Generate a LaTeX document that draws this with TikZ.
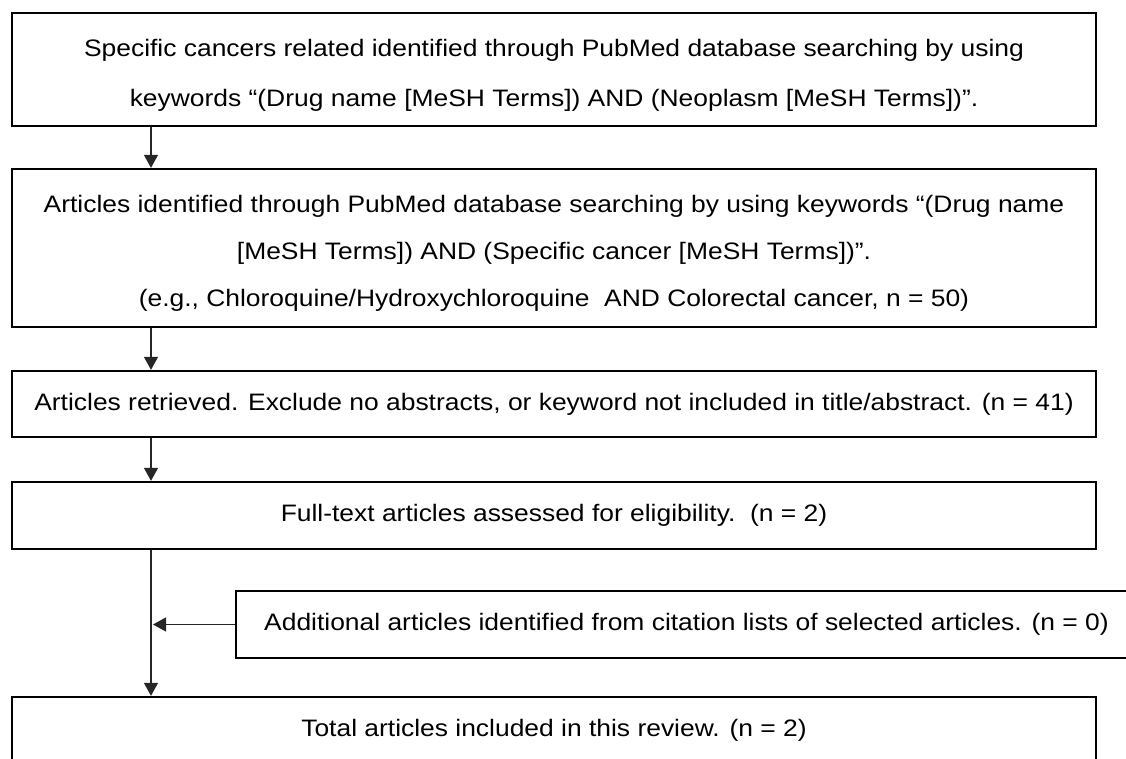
\documentclass[tikz,border=0pt]{standalone}
\usepackage{fontspec}
\setmainfont{Liberation Sans}[FakeStretch=1.11]
\usetikzlibrary{arrows.meta,positioning,calc}

\tikzset{
  box/.style={draw,line width=1.15pt,minimum width=542pt,align=center,inner sep=0pt,
    font=\fontsize{11.9}{23.5}\selectfont},
  flow/.style={-{Triangle[length=6.5pt,width=7pt]},line width=0.6pt,black!85}
}

\begin{document}
\begin{tikzpicture}[x=0.5pt,y=-0.5pt]
\useasboundingbox (0,0) rectangle (1126,759);
\clip (0,0) rectangle (1126,759);

\node[box,minimum height=56.5pt,font=\fontsize{11.9}{25}\selectfont] (search) at (554,69.5)
  {\rule{0pt}{14pt}Specific cancers related identified through PubMed database searching by using\\
   keywords ``(Drug name [MeSH Terms]) AND (Neoplasm [MeSH Terms])''.};
\node[box,minimum height=79pt] (ident) at (554,248)
  {\rule{0pt}{14pt}Articles identified through PubMed database searching by using keywords ``(Drug name\\
   {[}MeSH Terms]) AND (Specific cancer [MeSH Terms])''.\\
   (e.g., Chloroquine/Hydroxychloroquine\ \ AND Colorectal cancer, n = 50)};
\node[box,minimum height=33pt] (retr) at (554,404)
  {Articles retrieved. Exclude no abstracts, or keyword not included in title/abstract. (n = 41)};
\node[box,minimum height=33.5pt] (full) at (554,515.5)
  {Full-text articles assessed for eligibility.\ \ (n = 2)};
\node[box,minimum width=450.5pt,minimum height=33.5pt] (extra) at (686.5,624.5)
  {Additional articles identified from citation lists of selected articles. (n = 0)};
\node[box,minimum height=33.5pt] (total) at (554,730.5)
  {Total articles included in this review. (n = 2)};

\coordinate (ax) at (151,0);
\draw[flow] (search.south -| ax) -- (ident.north -| ax);
\draw[flow] (ident.south -| ax) -- (retr.north -| ax);
\draw[flow] (retr.south -| ax) -- (full.north -| ax);
\draw[flow] (full.south -| ax) -- (total.north -| ax);
\draw[flow] (extra.west) -- ($(extra.west -| ax)+(2,0)$);
\end{tikzpicture}
\end{document}
